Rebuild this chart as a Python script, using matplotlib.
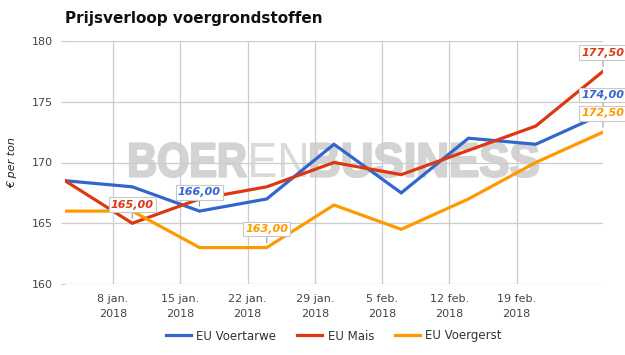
import numpy as np
import pandas as pd
import matplotlib
matplotlib.use("Agg")
import matplotlib.pyplot as plt
from matplotlib.textpath import TextPath
from matplotlib.patches import PathPatch
from matplotlib.font_manager import FontProperties
from matplotlib.transforms import Affine2D, IdentityTransform

# weekly quotes (Wednesdays), € per ton
dates = pd.to_datetime([
    "2018-01-03", "2018-01-10", "2018-01-17", "2018-01-24", "2018-01-31",
    "2018-02-07", "2018-02-14", "2018-02-21", "2018-02-28",
])
voertarwe = [168.5, 168.0, 166.0, 167.0, 171.5, 167.5, 172.0, 171.5, 174.0]
mais = [168.5, 165.0, 167.0, 168.0, 170.0, 169.0, 171.0, 173.0, 177.5]
voergerst = [166.0, 166.0, 163.0, 163.0, 166.5, 164.5, 167.0, 170.0, 172.5]

series_names = ["EU Voertarwe", "EU Mais", "EU Voergerst"]
series_colors = ["#3366cc", "#dc3912", "#ff9900"]
# indices of points that carry a value label
label_idx = [[2, 8], [1, 8], [3, 8]]

tick_dates = pd.to_datetime([
    "2018-01-08", "2018-01-15", "2018-01-22", "2018-01-29",
    "2018-02-05", "2018-02-12", "2018-02-19",
])
tick_labels = ["8 jan.\n2018", "15 jan.\n2018", "22 jan.\n2018", "29 jan.\n2018",
               "5 feb.\n2018", "12 feb.\n2018", "19 feb.\n2018"]
y_ticks = [160, 165, 170, 175, 180]

W, H = 625, 355
fig = plt.figure(figsize=(W / 100, H / 100), dpi=100)
ax = fig.add_axes([65 / W, 1 - 284 / H, (603 - 65) / W, (284 - 41) / H])
ax.patch.set_alpha(0)


def watermark_word(text, weight, x0, x1, ytop, ybot, color, stroke=0.0):
    # squeeze the word into a pixel box (image coords, origin top-left)
    tp = TextPath((0, 0), text, size=100,
                  prop=FontProperties(family="Liberation Sans", weight=weight))
    ext = tp.get_extents()
    tr = (Affine2D().translate(-ext.x0, -ext.y0)
          .scale((x1 - x0) / ext.width, (ybot - ytop) / ext.height)
          .translate(x0, H - ybot))
    fig.add_artist(PathPatch(tr.transform_path(tp), transform=IdentityTransform(),
                             fc=color, ec=color if stroke else "none", lw=stroke,
                             joinstyle="round", zorder=-1))


watermark_word("BOER", "bold", 130, 246, 143, 177, "#d3d3d3", stroke=1.6)
watermark_word("EN", "normal", 251, 306, 143, 177, "#dadada")
watermark_word("BUSINESS", "bold", 311, 538, 143, 177, "#d3d3d3", stroke=1.6)

all_values = [voertarwe, mais, voergerst]
for name, vals, col, idxs in zip(series_names, all_values, series_colors, label_idx):
    ax.plot(dates, vals, color=col, lw=2.3, label=name, solid_joinstyle="miter", zorder=3)
    for i in idxs:
        ax.annotate(f"{vals[i]:.2f}".replace(".", ","), xy=(dates[i], vals[i]),
                    xytext=(0, 13.5), textcoords="offset points",
                    ha="center", va="center", fontsize=8, fontweight="bold",
                    fontstyle="italic", color=col, annotation_clip=False, zorder=5,
                    bbox=dict(boxstyle="square,pad=0.2", fc="white", ec="#c8c8c8", lw=0.8),
                    arrowprops=dict(arrowstyle="-", color="#999999", lw=0.8,
                                    shrinkA=0, shrinkB=3.5))

ax.set_xlim(dates[0], dates[-1])
ax.set_ylim(160, 180)
ax.set_yticks(y_ticks)
ax.set_xticks(tick_dates)
ax.set_xticklabels(tick_labels, linespacing=1.6)
ax.grid(True, color="#cccccc", lw=0.9)
ax.set_axisbelow(True)
for s in ax.spines.values():
    s.set_visible(False)
ax.tick_params(axis="x", length=0, pad=7, labelsize=8, labelcolor="#444444")
ax.tick_params(axis="y", length=3, color="#cccccc", pad=6, labelsize=8, labelcolor="#444444")
ax.set_ylabel("€ per ton", fontsize=8, fontstyle="italic", color="#222222", labelpad=10)

fig.text(65 / W, 1 - 19 / H, "Prijsverloop voergrondstoffen", fontsize=11,
         fontweight="bold", color="#111111", va="center", ha="left")

fig.legend(loc="center", bbox_to_anchor=(334 / W, 1 - 336 / H), ncol=3, frameon=False,
           fontsize=8.5, handlelength=2.1, columnspacing=1.8, handletextpad=0.45,
           labelcolor="#333333")

fig.savefig("out.png", dpi=100)
